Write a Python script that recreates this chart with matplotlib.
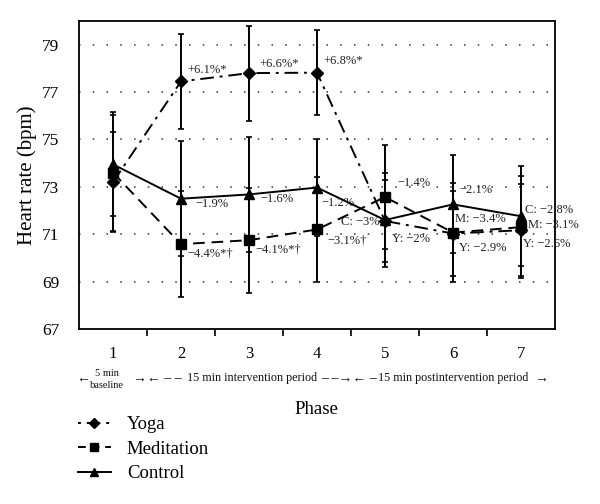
import matplotlib
matplotlib.use("Agg")
import matplotlib.pyplot as plt
from matplotlib.lines import Line2D

plt.rcParams['font.family'] = ['Liberation Serif', 'DejaVu Serif']

phases = [1, 2, 3, 4, 5, 6, 7]
yoga = [73.2, 77.45, 77.8, 77.82, 71.56, 71.03, 71.17]
yoga_err = [2.1, 2.0, 2.0, 1.8, 1.75, 1.8, 1.95]
medit = [73.6, 70.58, 70.75, 71.2, 72.57, 71.07, 71.3]
medit_err = [2.45, 2.25, 2.22, 2.22, 2.2, 2.09, 2.15]
control = [73.95, 72.5, 72.68, 72.97, 71.6, 72.26, 71.76]
control_err = [2.2, 2.43, 2.42, 2.05, 2.0, 2.07, 2.1]

yticks = [67, 69, 71, 73, 75, 77, 79]

annotations = [
    ("+6.1%*", 2.10, 77.95), ("+6.6%*", 3.15, 78.2), ("+6.8%*", 4.09, 78.3),
    ("\u22121.9%", 2.21, 72.26), ("\u22121.6%", 3.16, 72.5), ("\u22121.2%", 4.06, 72.3),
    ("\u22124.4%*\u2020", 2.09, 70.2), ("\u22124.1%*\u2020", 3.10, 70.37),
    ("\u22123.1%\u2020", 4.15, 70.75), ("C: \u22123%", 4.35, 71.52),
    ("\u22121.4%", 5.18, 73.16), ("Y: \u22122%", 5.10, 70.8),
    ("\u22122.1%", 6.10, 72.85), ("M: \u22123.4%", 6.03, 71.63), ("Y: \u22122.9%", 6.09, 70.4),
    ("C: \u22122.8%", 7.06, 72.04), ("M: \u22123.1%", 7.10, 71.38), ("Y: \u22122.6%", 7.03, 70.6),
]

fig = plt.figure(figsize=(6.0, 5.04), dpi=100)
ax = fig.add_axes([79/600, 1-329/504, (555-79)/600, (329-21)/504])

lw = 1.4
ax.errorbar(phases, yoga, yerr=yoga_err, color='black', lw=lw, ls=(0, (7, 3, 1.5, 3)),
            marker='D', ms=6.5, capsize=2.3, elinewidth=1.4, capthick=1.2, label='Yoga', zorder=3)
ax.errorbar(phases, medit, yerr=medit_err, color='black', lw=lw, ls=(0, (6, 3.5)),
            marker='s', ms=7.5, capsize=2.3, elinewidth=1.4, capthick=1.2, label='Meditation', zorder=3)
ax.errorbar(phases, control, yerr=control_err, color='black', lw=lw, ls='-',
            marker='^', ms=7.5, capsize=2.3, elinewidth=1.4, capthick=1.2, label='Control', zorder=3)

ax.set_xlim(0.5, 7.5)
ax.set_ylim(67, 80)
ax.set_yticks(yticks)
ax.set_yticklabels([str(v) for v in yticks], fontsize=12.5)
for v in yticks[1:]:
    ax.axhline(v, color='#333333', lw=1.1, ls=(0, (1, 8)), zorder=1)

ax.set_xticks([p + 0.5 for p in phases[:-1]])
ax.set_xticks(phases, minor=True)
ax.set_xticklabels([], minor=False)
ax.set_xticklabels([str(p) for p in phases], minor=True, fontsize=12)
ax.tick_params(axis='x', which='major', direction='out', length=5, width=1.2)
ax.tick_params(axis='x', which='minor', length=0, pad=12)
ax.tick_params(axis='y', length=0, pad=14)
for s in ax.spines.values():
    s.set_linewidth(1.3)

ax.set_ylabel("Heart rate (bpm)", fontsize=15, labelpad=4)

for txt, x, y in annotations:
    ax.text(x, y, txt, fontsize=9, color='#222222', ha='left', va='center', zorder=4)

# Period row under x ticks
def ftext(px, py, s, size=8, ha='center'):
    fig.text(px/600, 1-py/504, s, fontsize=size, ha=ha, va='center', color='#111111')

ftext(83, 378, "\u2190", 10)
ftext(107, 373, "5 min", 7.5)
ftext(107, 386, "baseline", 7.5)
ftext(133, 378, "\u2192\u2190 \u2013 \u2013", 10, ha='left')
ftext(252, 378, "15 min intervention period", 8.7)
ftext(321, 378, "\u2013 \u2013\u2192\u2190 \u2013", 10, ha='left')
ftext(453, 378, "15 min postintervention period", 8.7)
ftext(541, 378, "\u2192", 10)

fig.text(316/600, 1-410/504, "Phase", fontsize=13.5, ha='center', va='center')

handles = [
    Line2D([], [], color='black', lw=lw, ls=(0, (1.5, 3, 7, 3)), marker='D', ms=5),
    Line2D([], [], color='black', lw=lw, ls=(0, (4, 3)), marker='s', ms=6),
    Line2D([], [], color='black', lw=lw, ls='-', marker='^', ms=6),
]
fig.legend(handles, ['Yoga', 'Meditation', 'Control'], loc='upper left',
           bbox_to_anchor=(78/600, 1-416/504), frameon=False, fontsize=13.5,
           borderpad=0, borderaxespad=0,
           handlelength=1.75, labelspacing=0.4, handletextpad=0.85)

fig.savefig("out.png", dpi=100)
